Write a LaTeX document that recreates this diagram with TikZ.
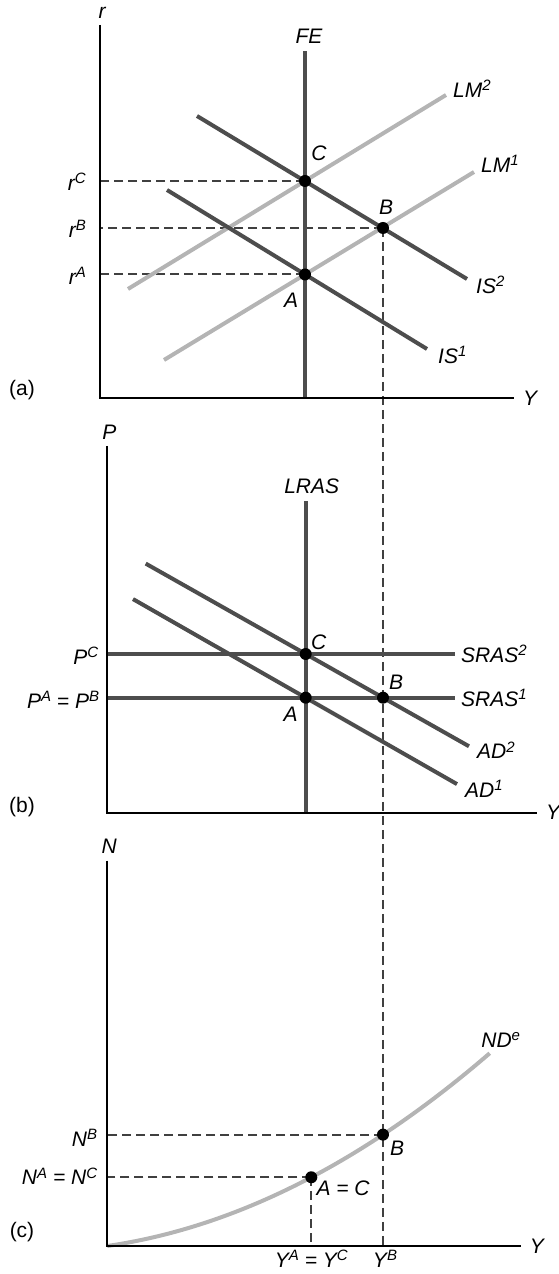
\documentclass[tikz,border=0pt]{standalone}
\usepackage{fontspec}
\setmainfont{Liberation Sans}
\usetikzlibrary{calc}
\definecolor{escuro}{HTML}{4D4D4D}
\definecolor{claro}{HTML}{B4B4B4}
\definecolor{tracejado}{HTML}{404040}
\newcommand{\sobre}[1]{\raisebox{0.32em}{\fontsize{15}{15}\selectfont #1}}

\begin{document}
\begin{tikzpicture}[
    x=1pt, y=1pt,
    eixo/.style={draw=black, line width=2.3pt},
    curva/.style={draw=escuro, line width=4pt},
    curvaclara/.style={draw=claro, line width=4pt},
    guia/.style={draw=tracejado, line width=2pt, dash pattern=on 9pt off 5pt},
    ponto/.style={circle, fill=black, inner sep=0pt, minimum size=12pt},
    rotulo/.style={font=\fontsize{21}{24}\selectfont\itshape, inner sep=1pt},
    painel/.style={font=\fontsize{21}{24}\selectfont, inner sep=1pt},
    declare function={nd(\x)=0.1457*\x+9.37*(\x/100)^2;}
]
\useasboundingbox (0,0) rectangle (558,1274);

% Origens dos tres paineis
\coordinate (a0) at (100,876);
\coordinate (b0) at (107.3,461.3);
\coordinate (c0) at (107.3,28);

% (a) IS-LM-FE
\begin{scope}[shift={(a0)}]
\coordinate (aC) at (205,217);
\coordinate (aB) at (283,170);
\coordinate (aA) at (205,123.5);

\draw[guia] (aC) -- (aC -| a0);
\draw[guia] (aB) -- (aB -| a0);
\draw[guia] (aA) -- (aA -| a0);
\draw[guia] (aB) -- (aB |- c0);

\draw[curvaclara] (28,109) -- (346,303) coordinate (aLM2);
\draw[curvaclara] (64,38) -- (374,226) coordinate (aLM1);
\draw[curva] (97,282) -- (367,119) coordinate (aIS2);
\draw[curva] (67,208) -- (327,49) coordinate (aIS1);
\draw[curva] (205,0) -- (205,347) coordinate (aFE);
\draw[eixo] (0,373) coordinate (ar) -- (0,0) -- (414,0) coordinate (aY);

\foreach \p in {aA,aB,aC} \node[ponto] (\p-pt) at (\p) {};

\node[rotulo, above=6pt, xshift=4pt] (aFEl) at (aFE) {FE};
\node[rotulo, anchor=west] (aLM2l) at ($(aLM2)+(6,6)$) {LM\sobre{2}};
\node[rotulo, anchor=west] (aLM1l) at ($(aLM1)+(6,8)$) {LM\sobre{1}};
\node[rotulo, anchor=west] (aIS2l) at ($(aIS2)+(8,-6)$) {IS\sobre{2}};
\node[rotulo, anchor=west] (aIS1l) at ($(aIS1)+(10,-6)$) {IS\sobre{1}};
\node[rotulo, anchor=south] (arl) at ($(ar)+(2,5)$) {r};
\node[rotulo, right=8pt] (aYl) at (aY) {Y};
\node[rotulo, anchor=east] (arC) at ($(aC -| a0)+(-13,-1)$) {r\sobre{C}};
\node[rotulo, anchor=east] (arB) at ($(aB -| a0)+(-13,-1)$) {r\sobre{B}};
\node[rotulo, anchor=east] (arA) at ($(aA -| a0)+(-13,-1)$) {r\sobre{A}};
\node[rotulo] (aCl) at ($(aC)+(14,28)$) {C};
\node[rotulo] (aBl) at ($(aB)+(3,21)$) {B};
\node[rotulo] (aAl) at ($(aA)+(-14,-25.5)$) {A};
\node[painel] (al) at (-78,8) {(a)};
\end{scope}

% (b) AD-AS
\begin{scope}[shift={(b0)}]
\coordinate (bC) at (198.4,158.7);
\coordinate (bA) at (198.4,115);
\coordinate (bB) at (275.7,115);

\draw[curva] (bC -| b0) -- (347.7,158.7) coordinate (bSRAS2);
\draw[curva] (bA -| b0) -- (347.7,115) coordinate (bSRAS1);
\draw[curva] (38.4,249.1) -- (361.7,66.4) coordinate (bAD2);
\draw[curva] (25.7,213.6) -- (349.7,28.6) coordinate (bAD1);
\draw[curva] (198.4,0) -- (198.4,311.7) coordinate (bLRAS);
\draw[eixo] (0,366.7) coordinate (bP) -- (0,0) -- (429.7,0) coordinate (bY);

\foreach \p in {bA,bB,bC} \node[ponto] (\p-pt) at (\p) {};

\node[rotulo, above=5pt, xshift=2pt] (bPl) at (bP) {P};
\node[rotulo, above=6pt, xshift=6pt] (bLRASl) at (bLRAS) {LRAS};
\node[rotulo, right=5pt] (bSRAS2l) at (bSRAS2) {SRAS\sobre{2}};
\node[rotulo, right=5pt] (bSRAS1l) at (bSRAS1) {SRAS\sobre{1}};
\node[rotulo, anchor=west] (bAD2l) at ($(bAD2)+(7,-4)$) {AD\sobre{2}};
\node[rotulo, anchor=west] (bAD1l) at ($(bAD1)+(7,-5)$) {AD\sobre{1}};
\node[rotulo, right=8pt] (bYl) at (bY) {Y};
\node[rotulo, anchor=east] (bPCl) at ($(bC -| b0)+(-8,-2)$) {P\sobre{C}};
\node[rotulo, anchor=east] (bPAl) at ($(bA -| b0)+(-7,-2)$) {P\sobre{A} = P\sobre{B}};
\node[rotulo] (bCl) at ($(bC)+(13,12)$) {C};
\node[rotulo] (bBl) at ($(bB)+(13,15)$) {B};
\node[rotulo] (bAl) at ($(bA)+(-15,-17)$) {A};
\node[painel] (bl) at (-85.3,5.7) {(b)};
\end{scope}

% (c) demanda de trabalho efetiva
\begin{scope}[shift={(c0)}]
\coordinate (cA) at (204,{nd(204)});
\coordinate (cB) at (275.7,{nd(275.7)});
\coordinate (cND) at (382.4,{nd(382.4)});

\draw[guia] (cB) -- (cB -| c0);
\draw[guia] (cA) -- (cA -| c0);
\draw[guia] (cA) -- (cA |- c0);

\draw[curvaclara] plot[domain=0:382.4, samples=60, smooth] (\x,{nd(\x)});
\draw[eixo] (0,385.3) coordinate (cN) -- (0,0) -- (413.4,0) coordinate (cY);

\foreach \p in {cA,cB} \node[ponto] (\p-pt) at (\p) {};

\node[rotulo, above=6pt, xshift=2pt] (cNl) at (cN) {N};
\node[rotulo] (cNDl) at ($(cND)+(11,13)$) {ND\sobre{e}};
\node[rotulo, right=8pt] (cYl) at (cY) {Y};
\node[rotulo, anchor=east] (cNBl) at ($(cB -| c0)+(-9,-3)$) {N\sobre{B}};
\node[rotulo, anchor=east] (cNAl) at ($(cA -| c0)+(-9,1)$) {N\sobre{A} = N\sobre{C}};
\node[rotulo, anchor=north] (cYAl) at ($(cA |- c0)+(0,-3)$) {Y\sobre{A} = Y\sobre{C}};
\node[rotulo, anchor=north] (cYBl) at ($(cB |- c0)+(2,-3)$) {Y\sobre{B}};
\node[rotulo] (cBl) at ($(cB)+(14,-14)$) {B};
\node[rotulo, anchor=west] (cACl) at ($(cA)+(4,-11)$) {A = C};
\node[painel] (cl) at (-85.3,14) {(c)};
\end{scope}
\end{tikzpicture}
\end{document}
